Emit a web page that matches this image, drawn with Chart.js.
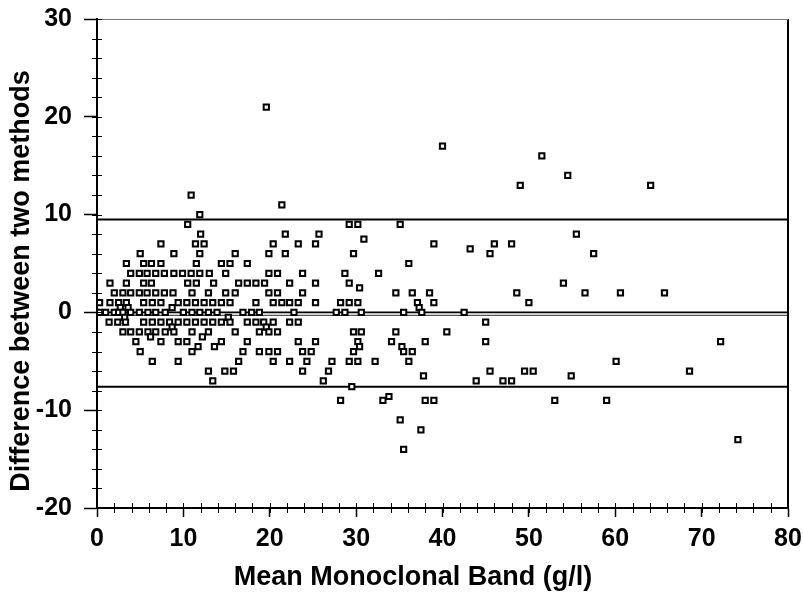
<!DOCTYPE html>
<html>
<head>
<meta charset="utf-8">
<script src="https://cdn.jsdelivr.net/npm/chart.js@4.4.1/dist/chart.umd.min.js"></script>
<style>
  html, body { margin: 0; padding: 0; background: #fff; }
  #wrap { width: 803px; height: 598px; }
</style>
</head>
<body>
<div id="wrap"><canvas id="chart" width="803" height="598"></canvas></div>
<script>
// Bland-Altman plot: difference between two methods vs mean monoclonal band

// ---------- data ----------
// each row: one difference value and the mean-band values plotted at it
const rowDifference = [21, 17, 16, 14, 13, 12, 11, 10, 9, 8, 7.5, 7, 6.5, 6, 5, 4, 3, 2.5, 2, 1, 0.5, 0,
  -0.5, -1, -1.5, -2, -2.5, -3, -3.5, -4, -5, -6, -6.5, -7, -7.6, -8.6, -9, -11, -12, -13, -14];

const rowMeanBand = [
  [19.6],
  [40.0],
  [51.5],
  [54.5],
  [49.0, 64.1],
  [10.9],
  [21.4],
  [11.9],
  [10.5, 29.2, 30.2, 35.1],
  [12.0, 21.8, 25.7, 55.5],
  [30.9],
  [7.4, 11.4, 12.4, 20.4, 23.3, 25.3, 39.0, 46.0, 48.0],
  [43.2],
  [5.0, 8.9, 11.9, 16.0, 19.9, 21.8, 29.7, 45.5, 57.5],
  [3.4, 5.4, 6.3, 7.4, 11.5, 14.4, 15.4, 17.4, 36.1],
  [3.9, 4.9, 5.8, 6.8, 7.8, 8.9, 9.9, 10.9, 11.9, 13.0, 14.9, 19.9, 20.9, 23.8, 28.7, 32.6],
  [1.5, 3.4, 5.4, 6.3, 10.5, 11.5, 13.5, 16.4, 17.4, 18.4, 19.4, 22.3, 25.3, 29.2, 54.0],
  [30.4],
  [2.0, 3.0, 3.9, 4.9, 5.8, 6.8, 7.8, 8.8, 11.0, 12.9, 14.9, 16.0, 19.9, 20.9, 23.8, 34.6, 36.5, 38.5, 48.6, 56.5, 60.6, 65.7],
  [0.3, 1.5, 2.5, 3.4, 5.4, 6.4, 7.4, 9.4, 10.4, 11.4, 12.4, 13.4, 14.4, 15.4, 18.4, 20.4, 21.4, 22.3, 23.3, 25.3, 28.2, 29.2, 30.2, 37.1, 39.0, 50.0],
  [2.7, 3.6, 8.7, 37.3],
  [0.3, 1.0, 2.0, 2.5, 3.0, 3.9, 4.9, 5.9, 6.8, 7.9, 10.0, 11.0, 11.9, 12.9, 13.9, 16.9, 17.9, 18.8, 22.8, 27.7, 28.7, 30.6, 35.5, 37.6, 42.5],
  [3.2, 15.2],
  [1.4, 2.4, 3.3, 5.4, 6.4, 7.4, 8.4, 9.4, 10.4, 11.4, 12.4, 13.4, 14.4, 15.4, 17.4, 18.4, 19.3, 20.4, 22.3, 23.3, 45.0],
  [8.7, 19.6],
  [3.0, 3.9, 4.9, 5.9, 6.8, 7.9, 8.9, 11.0, 12.9, 16.0, 18.8, 19.9, 20.9, 29.7, 30.6, 34.6, 40.5],
  [6.2, 12.2],
  [4.5, 7.4, 9.4, 10.4, 14.4, 17.4, 23.3, 25.3, 30.2, 34.1, 38.0, 45.0, 72.2],
  [11.7, 13.6, 30.4, 35.3],
  [5.0, 11.0, 16.9, 18.8, 19.9, 20.9, 23.8, 24.8, 29.7, 35.5, 36.5],
  [6.4, 9.4, 16.4, 20.4, 22.3, 24.3, 27.2, 29.2, 30.2, 32.2, 36.1, 60.1],
  [12.9, 14.8, 15.8, 23.8, 26.8, 45.5, 49.5, 50.5, 68.6],
  [37.8, 54.9],
  [13.4, 26.2, 43.9, 47.0, 48.0],
  [29.5],
  [33.8],
  [28.2, 33.1, 38.0, 39.0, 53.0, 59.0],
  [35.1],
  [37.5],
  [74.2],
  [35.5]
];

// horizontal reference lines
const upperLimit = 9.5;
const zeroLine = 0;
const meanDifference = -0.3;
const lowerLimit = -7.6;

const xTicks = [0, 10, 20, 30, 40, 50, 60, 70, 80];
const yTicks = [-20, -10, 0, 10, 20, 30];

const xTitle = "Mean Monoclonal Band (g/l)";
const yTitle = "Difference between two methods";

// ---------- build datasets ----------
const points = [];
rowDifference.forEach((d, i) => {
  rowMeanBand[i].forEach(m => points.push({ x: m, y: d }));
});

function hLine(value, width, color) {
  return {
    type: "line",
    data: [{ x: xTicks[0], y: value }, { x: xTicks[xTicks.length - 1], y: value }],
    borderColor: color,
    borderWidth: width,
    pointRadius: 0,
    fill: false,
    order: 2,
  };
}

const FONT = "'Liberation Sans', Arial, Helvetica, sans-serif";

// minor ticks, right border, top border, axis titles
const framePlugin = {
  id: "frame",
  afterDraw(chart) {
    const { ctx, chartArea: a, scales: { x, y } } = chart;
    ctx.save();
    ctx.strokeStyle = "#000";
    ctx.lineWidth = 2;
    ctx.beginPath();
    ctx.moveTo(a.right, a.top);
    ctx.lineTo(a.right, a.bottom);
    ctx.stroke();

    ctx.strokeStyle = "#777";
    ctx.lineWidth = 1;
    ctx.beginPath();
    ctx.moveTo(a.left, a.top + 0.5);
    ctx.lineTo(a.right, a.top + 0.5);
    ctx.stroke();

    ctx.strokeStyle = "#000";
    ctx.lineWidth = 1;
    for (let v = x.min; v <= x.max; v += 2) {
      const px = Math.round(x.getPixelForValue(v)) + 0.5;
      ctx.beginPath();
      ctx.moveTo(px, a.bottom - 5);
      ctx.lineTo(px, a.bottom + 5);
      ctx.stroke();
    }
    for (let v = y.min; v <= y.max; v += 2) {
      const py = Math.round(y.getPixelForValue(v)) + 0.5;
      ctx.beginPath();
      ctx.moveTo(a.left - 5, py);
      ctx.lineTo(a.left + 5, py);
      ctx.stroke();
    }

    ctx.fillStyle = "#000";
    ctx.font = "bold 27px " + FONT;
    ctx.textAlign = "center";
    ctx.textBaseline = "middle";
    ctx.fillText(xTitle, 413, 578);
    ctx.translate(22, 281);
    ctx.rotate(-Math.PI / 2);
    ctx.fillText(yTitle, 0, 0);
    ctx.restore();
  }
};

const tickFont = { family: FONT, size: 25, weight: "bold" };

new Chart(document.getElementById("chart"), {
  type: "scatter",
  data: {
    datasets: [
      {
        label: "Difference",
        data: points,
        pointStyle: "rect",
        pointRadius: 3.7,
        pointHoverRadius: 3.7,
        borderColor: "#000",
        borderWidth: 2,
        backgroundColor: "#fff",
        order: 1,
      },
      hLine(upperLimit, 2, "#000"),
      hLine(zeroLine, 1.6, "#000"),
      hLine(meanDifference, 1.2, "#555"),
      hLine(lowerLimit, 2, "#000"),
    ]
  },
  options: {
    responsive: false,
    animation: false,
    devicePixelRatio: 1,
    layout: { padding: { left: 0, right: 15, top: 19, bottom: 0 } },
    scales: {
      x: {
        type: "linear",
        min: xTicks[0],
        max: xTicks[xTicks.length - 1],
        afterBuildTicks: s => { s.ticks = xTicks.map(v => ({ value: v })); },
        afterFit: s => { s.height = 90; s.paddingLeft = 0; s.paddingRight = 0; },
        ticks: { font: tickFont, color: "#000", padding: 7 },
        grid: { drawOnChartArea: false, tickLength: 9, tickColor: "#000", tickWidth: 1.5 },
        border: { display: true, color: "#000", width: 2 },
      },
      y: {
        type: "linear",
        min: yTicks[0],
        max: yTicks[yTicks.length - 1],
        afterBuildTicks: s => { s.ticks = yTicks.map(v => ({ value: v })); },
        afterFit: s => { s.width = 97; s.paddingTop = 0; s.paddingBottom = 0; },
        ticks: { font: tickFont, color: "#000", padding: 12 },
        grid: { drawOnChartArea: false, tickLength: 13, tickColor: "#000", tickWidth: 1.5 },
        border: { display: true, color: "#000", width: 2 },
      },
    },
    plugins: {
      legend: { display: false },
      tooltip: { enabled: false },
    }
  },
  plugins: [framePlugin]
});
</script>
</body>
</html>
